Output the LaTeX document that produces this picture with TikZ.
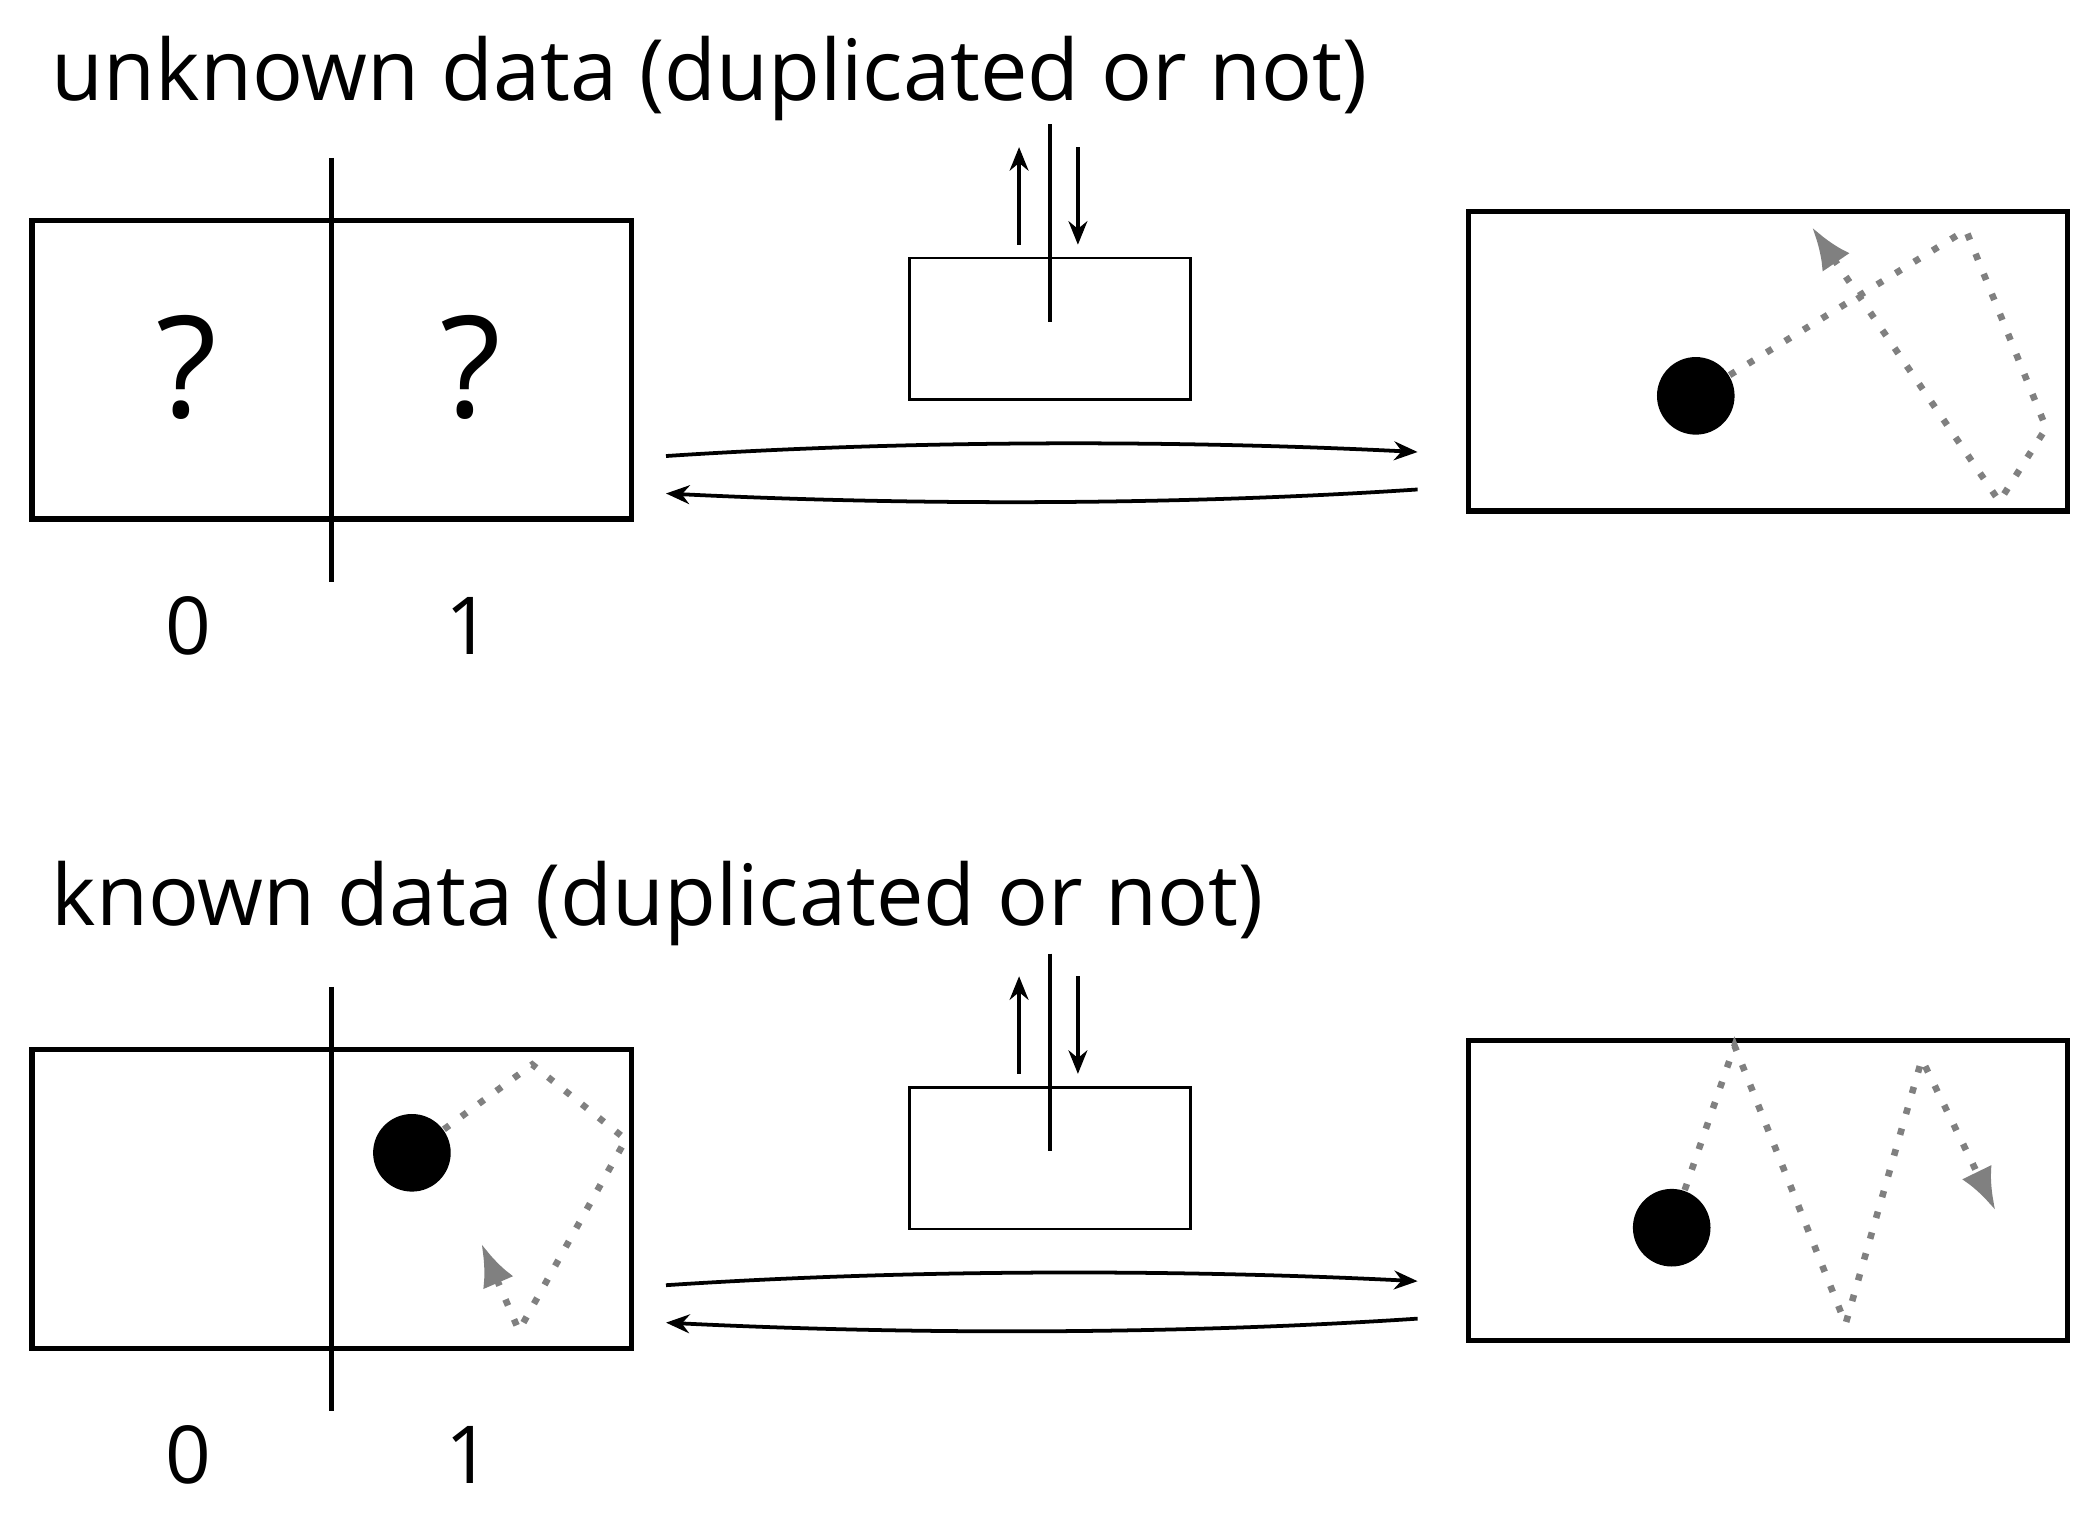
\documentclass[tikz,border=0pt]{standalone}
\usepackage{fontspec}
\setmainfont{Open Sans}
\usetikzlibrary{arrows.meta}

\tikzset{
  frame/.style={draw, line width=1.1pt, inner sep=0pt},
  device/.style={draw, line width=0.6pt, inner sep=0pt},
  flow/.style={line width=0.8pt, -{Stealth[length=5pt,width=4pt]}},
  path/.style={gray, line width=1.4pt, dash pattern=on 1.4pt off 3.2pt, -{Latex[length=9pt,width=7pt]}},
  ball/.style={circle, fill=black, minimum size=0.58cm, inner sep=0pt},
  title/.style={anchor=base west, inner sep=0pt, font=\fontsize{18}{21}\selectfont},
  digit/.style={font=\fontsize{17}{20}\selectfont}
}

\begin{document}
\begin{tikzpicture}[x=0.01cm, y=-0.01cm]
\useasboundingbox (0,0) rectangle (1568,1134);

% both rows share the same layout
\foreach \row/\dy in {u/0, k/620} {
  \begin{scope}[yshift=-\dy*0.01cm]
    \node[frame, minimum width=4.48cm, minimum height=2.23cm] (left\row) at (248,276.5) {};
    \draw[line width=1.1pt] (248,118) -- (248,435);
    \node[digit] (zero\row) at (141,468) {0};
    \node[digit] (one\row) at (350,468) {1};
    \node[device, minimum width=2.1cm, minimum height=1.06cm] (dev\row) at (785,246) {};
    \draw[line width=0.8pt] (785,93) -- (785,241);
    \draw[flow] (762,183) -- (762,110);
    \draw[flow] (806,110) -- (806,183);
    \node[frame, minimum width=4.48cm, minimum height=2.24cm] (right\row) at (1322,270) {};
    \coordinate (a\row) at (498,341);
    \coordinate (b\row) at (1060,338);
    \coordinate (c\row) at (1060,366);
    \coordinate (d\row) at (498,369);
    \draw[flow] (a\row) .. controls (680,329) and (880,329) .. (b\row);
    \draw[flow] (c\row) .. controls (880,378) and (680,378) .. (d\row);
  \end{scope}
}

% unknown data
\node[title] (titleu) at (38,75) {unknown data (duplicated or not)};
\node[font=\fontsize{30}{30}\selectfont\addfontfeature{FakeBold=0}] (qa) at (140,275) {?};
\node[font=\fontsize{30}{30}\selectfont] (qb) at (352,275) {?};
\node[ball] (ballu) at (1268,296) {};
\draw[path] (ballu) -- (1470,172) -- (1530,320) -- (1495,375) -- (1355,170);

% known data
\node[title] (titlek) at (38,692) {known data (duplicated or not)};
\node[ball] (ballkl) at (308,862) {};
\draw[path] (ballkl) -- (398,796) -- (468,852) -- (388,995) -- (360,930);
\node[ball] (ballkr) at (1250,918) {};
\draw[path] (ballkr) -- (1297,782) -- (1380,990) -- (1437,792) -- (1492,905);
\end{tikzpicture}
\end{document}
